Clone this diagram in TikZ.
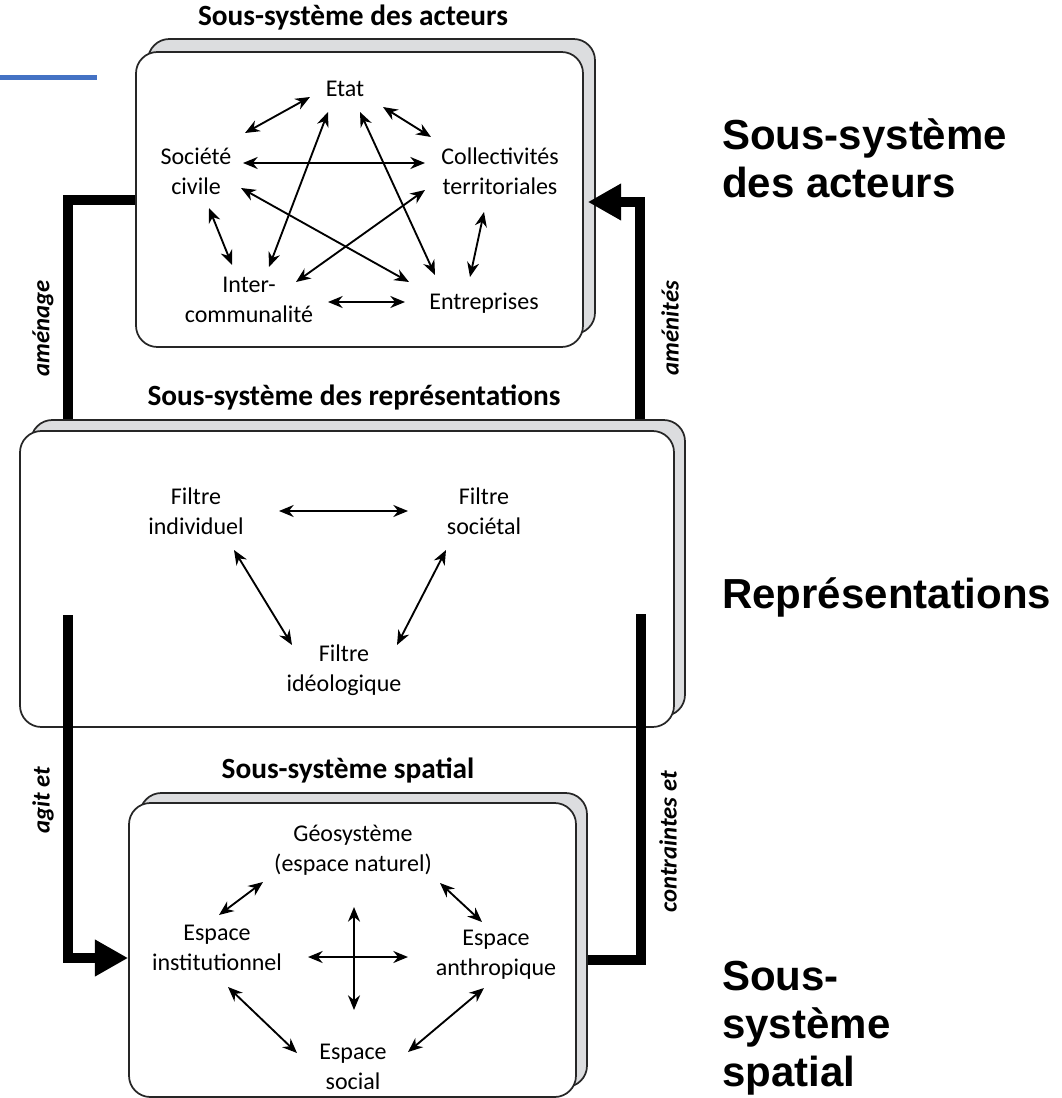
\documentclass[tikz,border=0pt]{standalone}
\usepackage{fontspec}
\setmainfont{Carlito}
\newfontfamily\grosfont{Liberation Sans}
\usetikzlibrary{arrows.meta,calc,fit}
\definecolor{dosgris}{RGB}{220,221,223}
\definecolor{bleutrait}{RGB}{68,114,196}
\tikzset{
	cadre/.style={draw=black!85, line width=1.3pt, rounded corners=16pt, fill=white, inner sep=0pt},
	dos/.style={draw=black!85, line width=1.3pt, rounded corners=16pt, fill=dosgris, inner sep=0pt},
	txt/.style={font=\fontsize{18}{22.5}\selectfont, align=center, inner sep=0pt},
	titre/.style={font=\bfseries\fontsize{22}{26}\selectfont, inner sep=0pt},
	dbl/.style={{Stealth[length=11pt,width=9pt]}-{Stealth[length=11pt,width=9pt]}, line width=1.4pt},
	flux/.style={line width=7.5pt, line join=miter},
	fluxtip/.style={flux, -{Triangle[length=25pt,width=26pt]}},
	fluxlbl/.style={font=\bfseries\itshape\fontsize{18.5}{22}\selectfont, rotate=90, inner sep=0pt},
	grand/.style={font=\grosfont\bfseries\fontsize{31.5}{36}\selectfont, align=left, anchor=west, inner sep=0pt}
}

\begin{document}
\begin{tikzpicture}[x=0.75pt, y=-0.75pt]
		%%%%% START %%%%%
		\useasboundingbox (0,0) rectangle (1062,1098);
		\draw[bleutrait, line width=3.75pt] (0,78) -- (97,78);
		
		% acteurs
		\node[dos, fit={(148,39) (595,334)}] (acteursdos) {};
		\node[cadre, fit={(136,52) (583,347)}] (acteurs) {};
		\node[titre] (titreacteurs) at (353,18) {Sous-système des acteurs};
		
		\node[txt] (etat) at (345,89) {Etat};
		\node[txt] (socciv) at (196,171) {Société\\civile};
		\node[txt] (coll) at (500,171) {Collectivités\\territoriales};
		\node[txt] (inter) at (249,300) {Inter-\\communalité};
		\node[txt] (entr) at (484,303) {Entreprises};
		
		\draw[dbl] ($(socciv)+(49,-38)$) -- ($(etat)+(-35,8)$);
		\draw[dbl] ($(etat)+(38,18)$) -- ($(coll)+(-69,-34)$);
		\draw[dbl] ($(socciv)+(47,-8)$) -- ($(coll)+(-75,-8)$);
		\draw[dbl] ($(etat)+(-17,23)$) -- ($(inter)+(20,-33)$);
		\draw[dbl] ($(etat)+(15,23)$) -- ($(entr)+(-49,-28)$);
		\draw[dbl] ($(socciv)+(45,17)$) -- ($(entr)+(-75,-21)$);
		\draw[dbl] ($(coll)+(-75,19)$) -- ($(inter)+(47,-18)$);
		\draw[dbl] ($(socciv)+(13,37)$) -- ($(inter)+(-17,-35)$);
		\draw[dbl] ($(coll)+(-16,41)$) -- ($(entr)+(-14,-26)$);
		\draw[dbl] ($(inter)+(79,2)$) -- ($(entr)+(-79,-1)$);
		
		% representations
		\node[dos, fit={(31,420) (685,716)}] (repdos) {};
		\node[cadre, fit={(20,431) (674,727)}] (rep) {};
		\node[titre] (titrerep) at (354,397) {Sous-système des représentations};
		
		\node[txt] (filind) at (196,511) {Filtre\\individuel};
		\node[txt] (filsoc) at (484,511) {Filtre\\sociétal};
		\node[txt] (filideo) at (344,670) {Filtre\\idéologique};
		
		\draw[dbl] ($(filind)+(83,0)$) -- ($(filsoc)+(-76,0)$);
		\draw[dbl] ($(filind)+(38,39)$) -- ($(filideo)+(-52,-25)$);
		\draw[dbl] ($(filsoc)+(-38,39)$) -- ($(filideo)+(53,-25)$);
		
		% spatial
		\node[dos, fit={(140,793) (587,1087)}] (spatialdos) {};
		\node[cadre, fit={(129,803) (576,1097)}] (spatial) {};
		\node[titre] (titrespatial) at (348,770) {Sous-système spatial};
		
		\node[txt] (geo) at (353,850) {Géosystème\\(espace naturel)};
		\node[txt] (inst) at (217,948) {Espace\\institutionnel};
		\node[txt] (anth) at (496,955) {Espace\\anthropique};
		\node[txt] (social) at (353,1067) {Espace\\social};
		
		\draw[dbl] ($(geo)+(-90,32)$) -- ($(inst)+(2,-33)$);
		\draw[dbl] ($(geo)+(87,33)$) -- ($(anth)+(-14,-33)$);
		\draw[dbl] ($(inst)+(91,9)$) -- ($(anth)+(-88,2)$);
		\draw[dbl] ($(geo)+(1,57)$) -- ($(social)+(1,-57)$);
		\draw[dbl] ($(inst)+(11,39)$) -- ($(social)+(-56,-14)$);
		\draw[dbl] ($(anth)+(-12,33)$) -- ($(social)+(55,-15)$);
		
		% liens entre sous-systemes
		\coordinate (agitdeb) at (68,615);
		\coordinate (contrdeb) at (641,614);
		\draw[flux] (acteurs.west |- 0,200) -| (repdos.north -| 68,0);
		\draw[fluxtip, shorten >=-6pt] (repdos.north -| 640,0) |- (acteursdos.east |- 0,202);
		\draw[fluxtip] (agitdeb) |- (spatial.west |- 0,958);
		\draw[flux] (contrdeb) |- (spatialdos.east |- 0,960);
		
		\node[fluxlbl] (amenage) at (43,328) {aménage};
		\node[fluxlbl] (amenites) at (670,328) {aménités};
		\node[fluxlbl] (agit) at (43,800) {agit et};
		\node[fluxlbl] (contraintes) at (668,842) {contraintes et};
		
		\node[grand] (lblacteurs) at (722,158) {Sous-système\\des acteurs};
		\node[grand] (lblrep) at (722,597) {Représentations};
		\node[grand] (lblspatial) at (722,1028) {Sous-\\système\\spatial};
		%%%%% END %%%%%
	\end{tikzpicture}
\end{document}
